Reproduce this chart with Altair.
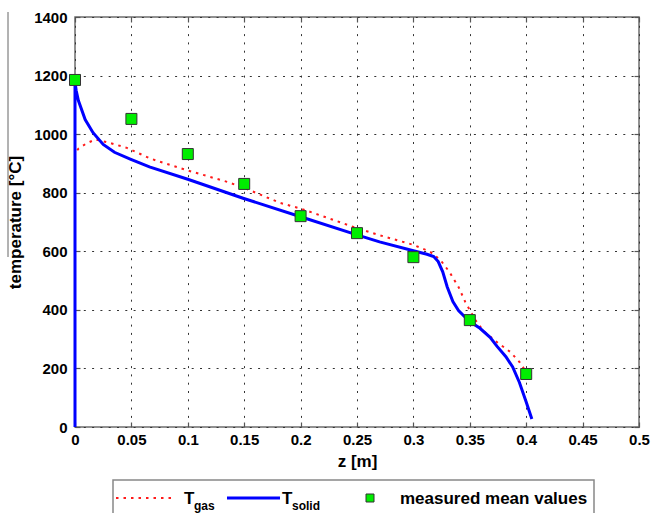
import altair as alt
import pandas as pd

# ---- data ----
solid_z = [0, 0, 0.001, 0.003, 0.009, 0.016, 0.025, 0.035, 0.049, 0.066, 0.1, 0.149,
           0.2, 0.25, 0.27, 0.3, 0.312, 0.318, 0.322, 0.326, 0.33, 0.335, 0.34, 0.345,
           0.35, 0.359, 0.368, 0.374, 0.382, 0.388, 0.394, 0.4, 0.405]
solid_t = [0, 1180, 1150, 1115, 1050, 1005, 965, 938, 915, 888, 846, 781,
           718, 656, 632, 602, 590, 582, 565, 530, 478, 428, 398, 378,
           360, 337, 306, 276, 240, 205, 152, 85, 27]

gas_z = [0, 0, 0.003, 0.01, 0.018, 0.031, 0.046, 0.066, 0.075, 0.1, 0.135, 0.149,
         0.182, 0.2, 0.25, 0.27, 0.3, 0.315, 0.324, 0.332, 0.34, 0.346, 0.355, 0.362,
         0.374, 0.386, 0.394, 0.4, 0.402]
gas_t = [0, 935, 950, 968, 982, 970, 953, 918, 906, 876, 837, 818,
         765, 746, 679, 655, 622, 598, 570, 529, 478, 427, 365, 328,
         290, 256, 222, 188, 180]

meas_z = [0, 0.05, 0.1, 0.15, 0.2, 0.25, 0.3, 0.35, 0.4]
meas_t = [1185, 1052, 932, 830, 720, 662, 580, 365, 181]

x_ticks = [0, 0.05, 0.1, 0.15, 0.2, 0.25, 0.3, 0.35, 0.4, 0.45, 0.5]
y_ticks = [0, 200, 400, 600, 800, 1000, 1200, 1400]

legend_labels = ["T", "gas", "T", "solid", "measured mean values"]

FONT = "Liberation Sans"
W, H = 564, 410

solid_df = pd.DataFrame({"z": solid_z, "T": solid_t, "i": list(range(len(solid_z)))})
gas_df = pd.DataFrame({"z": gas_z, "T": gas_t, "i": list(range(len(gas_z)))})
meas_df = pd.DataFrame({"z": meas_z, "T": meas_t})
one = pd.DataFrame({"a": [1]})

xs = alt.Scale(domain=[0, 0.5], nice=False, zero=False)
ys = alt.Scale(domain=[0, 1400], nice=False)

grid_kw = dict(grid=True, gridColor="#333333", gridDash=[2, 6.3], gridWidth=1,
               ticks=False, domain=False, labelFont=FONT, labelFontSize=15,
               labelFontWeight="bold", labelColor="black", titleFont=FONT,
               titleFontSize=17, titleFontWeight="bold", titleColor="black",
               labelFlush=False, labelOverlap=False, labelBound=False)

main_x_axis = alt.Axis(values=x_ticks, format=".2~f", title="z [m]", labelPadding=5,
                       titlePadding=6, **grid_kw)
main_y_axis = alt.Axis(values=y_ticks, format="d", title="temperature [°C]",
                       labelPadding=8, titlePadding=9, **grid_kw)

tick_kw = dict(labels=False, grid=False, domain=False, ticks=True, tickSize=5,
               tickColor="#555555", tickWidth=1.2, title=None, offset=-5)

gas = alt.Chart(gas_df).mark_line(color="#ff1a1a", strokeWidth=2, strokeDash=[2.5, 5]).encode(
    x=alt.X("z:Q", scale=xs, axis=main_x_axis),
    y=alt.Y("T:Q", scale=ys, axis=main_y_axis),
    order="i:Q",
)

solid = alt.Chart(solid_df).mark_line(color="#0000ff", strokeWidth=3).encode(
    x=alt.X("z:Q", scale=xs, axis=alt.Axis(orient="top", values=x_ticks, **tick_kw)),
    y=alt.Y("T:Q", scale=ys, axis=alt.Axis(orient="right", values=y_ticks, **tick_kw)),
    order="i:Q",
)

pts = alt.Chart(meas_df).mark_point(shape="square", filled=True, size=121, fill="#00ee00",
                                    stroke="#333333", strokeWidth=1, opacity=1).encode(
    x=alt.X("z:Q", scale=xs, axis=alt.Axis(orient="bottom", values=x_ticks, **tick_kw)),
    y=alt.Y("T:Q", scale=ys, axis=alt.Axis(orient="left", values=y_ticks, **tick_kw)),
)

# ---- hand-made legend (needs subscripts) ----
LY = 481  # legend row centre, relative to plot top
box = alt.Chart(one).mark_rect(fill="white", stroke="#888888", strokeWidth=1.5).encode(
    x=alt.value(38), x2=alt.value(519), y=alt.value(463), y2=alt.value(540))
leg_gas = alt.Chart(one).mark_rule(color="#ff1a1a", strokeWidth=2, strokeDash=[2.5, 5]).encode(
    x=alt.value(41), x2=alt.value(98), y=alt.value(LY))
leg_solid = alt.Chart(one).mark_rule(color="#0000ff", strokeWidth=3).encode(
    x=alt.value(152), x2=alt.value(205), y=alt.value(LY))
leg_pt = alt.Chart(one).mark_point(shape="square", filled=True, size=64, fill="#00ee00",
                                   stroke="#333333", strokeWidth=1, opacity=1).encode(
    x=alt.value(295), y=alt.value(LY))


def txt(s, x, y, size):
    return alt.Chart(one).mark_text(text=s, font=FONT, fontSize=size, fontWeight="bold",
                                    align="left", baseline="alphabetic", color="black").encode(
        x=alt.value(x), y=alt.value(y))


t1 = txt(legend_labels[0], 109, LY + 6, 17)
t1s = txt(legend_labels[1], 119, LY + 12, 12)
t2 = txt(legend_labels[2], 207, LY + 6, 17)
t2s = txt(legend_labels[3], 217, LY + 12, 12)
t3 = txt(legend_labels[4], 325, LY + 6, 17)

artifact = alt.Chart(one).mark_rule(color="#666666", strokeWidth=1).encode(
    x=alt.value(-67), y=alt.value(-5), y2=alt.value(240))

chart = alt.layer(gas, solid, pts, box, leg_gas, leg_solid, leg_pt, t1, t1s, t2, t2s, t3,
                  artifact).resolve_axis(
    x="independent", y="independent"
).properties(
    width=W, height=H,
    autosize=alt.AutoSizeParams(type="none"),
    padding={"left": 75, "top": 17, "right": 14, "bottom": 86},
    background="white",
).configure_view(stroke="#6e6e6e", strokeWidth=1.5)

chart.save("out.html", embed_options={"renderer": "svg", "actions": False})
